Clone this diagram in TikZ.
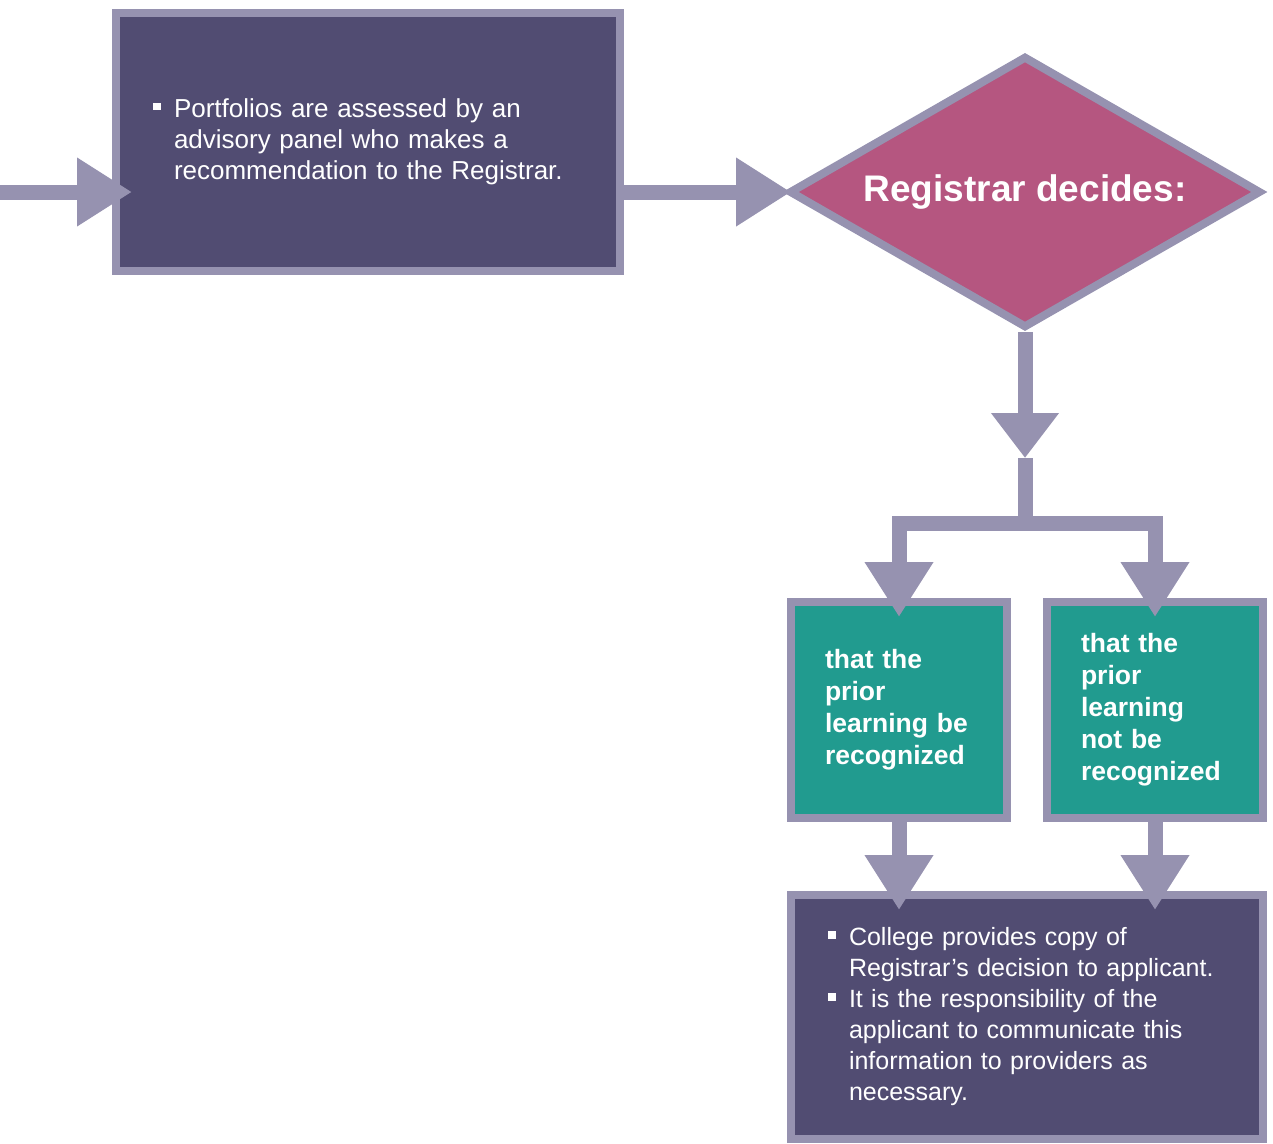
\documentclass[tikz,border=0pt]{standalone}
\usepackage{fontspec}
\setmainfont{Liberation Sans}
\usepackage{xcolor}
\definecolor{panelfill}{HTML}{514C72}
\definecolor{edge}{HTML}{9692B0}
\definecolor{decidefill}{HTML}{B55680}
\definecolor{choicefill}{HTML}{219B8F}
\usepackage{tikz}
\usetikzlibrary{positioning,arrows.meta,shapes.geometric}
\newcommand{\sqbul}{\makebox[21pt][l]{\rule[0.28em]{0.3em}{0.3em}}}
\newcommand{\indnt}{\hspace*{21pt}}

\begin{document}
\begin{tikzpicture}[x=1pt, y=-1pt,
                   box/.style={draw=edge, line width=8pt, text=white, inner ysep=0pt, align=left},
                   panel/.style={box, fill=panelfill, inner xsep=37pt},
                   choice/.style={box, fill=choicefill, font=\bfseries\fontsize{26.5}{32}\selectfont,
                                  inner xsep=34pt, text width=148pt, minimum height=216pt},
                   decide/.style={diamond, aspect=1.74, draw=edge, line width=8pt, fill=decidefill, text=white,
                                  inner sep=0pt, font=\bfseries\fontsize{37}{44}\selectfont,
                                  minimum width=472pt, minimum height=272pt},
                   flow/.style={draw=edge, line width=15pt, -{Triangle[width=65pt,length=55pt]}}]
    \useasboundingbox (0,0) rectangle (1273,1143);
    \node[panel, font=\fontsize{26}{31}\selectfont, text width=430pt, minimum height=258pt] (port) at (368,142)
        {\sqbul Portfolios are assessed by an\\ \indnt advisory panel who makes a\\ \indnt recommendation to the Registrar.};
    \node[decide] (dec) at (1025,192) {\raisebox{-3pt}{Registrar decides:}};
    \node[choice] (yes) at (899,710) {that the\\prior\\learning be\\recognized};
    \node[choice] (no) at (1155,710) {that the\\prior\\learning\\not be\\recognized};
    \node[panel, font=\fontsize{25}{31}\selectfont, text width=398pt, minimum height=244pt] (fin) at (1027,1017)
        {\sqbul College provides copy of\\ \indnt Registrar’s decision to applicant.\\
         \sqbul It is the responsibility of the\\ \indnt applicant to communicate this\\
         \indnt information to providers as\\ \indnt necessary.};
    \coordinate (in) at (0,192);
    \coordinate (mid) at (1025,458);
    \coordinate (split) at (1025,523);
    \draw[flow, shorten >=-20pt] (in) -- (in -| port.west);
    \draw[flow, shorten >=-6pt] (port.east |- dec.west) -- (dec.west);
    \draw[flow, -{Triangle[width=65pt,length=45pt]}] (dec.south) -- (mid);
    \draw[draw=edge, line width=15pt] (mid) -- (split);
    \draw[flow, shorten >=-19pt] (split) -| (yes.north);
    \draw[flow, shorten >=-19pt] (split) -| (no.north);
    \draw[flow, shorten >=-19pt] (yes.south) -- (yes.south |- fin.north);
    \draw[flow, shorten >=-19pt] (no.south) -- (no.south |- fin.north);
\end{tikzpicture}
\end{document}
